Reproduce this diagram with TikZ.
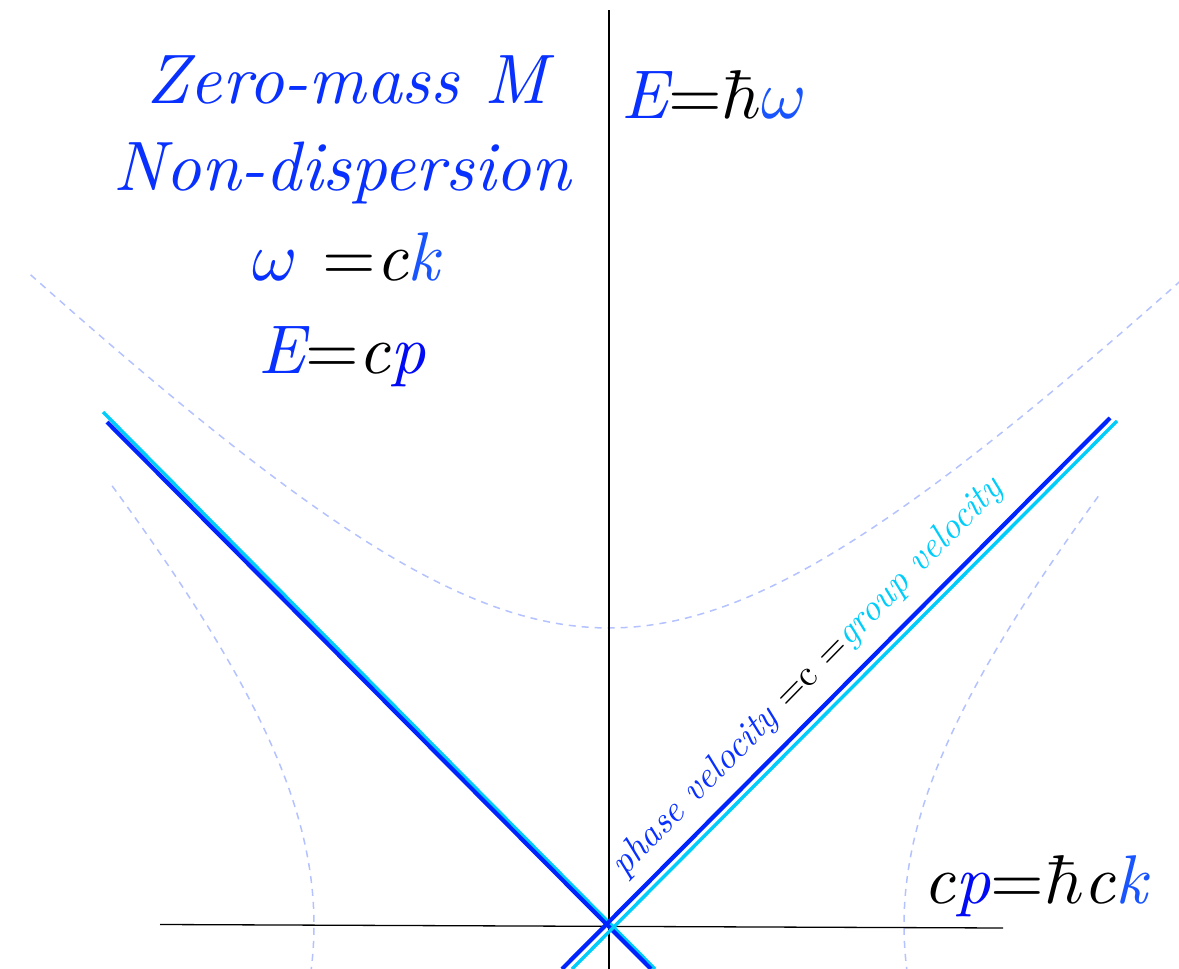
\documentclass[tikz,border=0pt]{standalone}
\usepackage[no-math]{fontspec}
\definecolor{tblue}{RGB}{8,48,255}
\definecolor{pblue}{RGB}{0,10,245}
\definecolor{kblue}{RGB}{25,85,255}
\definecolor{lblue}{RGB}{0,36,255}
\definecolor{lcyan}{RGB}{0,205,250}
\definecolor{hyp}{RGB}{180,194,255}
\tikzset{
  axisline/.style={draw=black, line width=1.3pt},
  hypline/.style={draw=hyp, line width=1.5pt, dash pattern=on 7pt off 6pt},
  blueline/.style={draw=lblue, line width=4.2pt},
  cyanline/.style={draw=lcyan, line width=3.4pt},
  bigtext/.style={inner sep=0pt, anchor=base, scale=7.0, font=\fontsize{10}{12}\selectfont\itshape},
  eqtext/.style={inner sep=0pt, scale=6.9, font=\fontsize{10}{12}\selectfont\itshape},
  slanttext/.style={inner sep=0pt, anchor=base west, rotate=45.6, scale=3.7, font=\fontsize{10}{12}\selectfont\itshape}
}
\begin{document}
\begin{tikzpicture}[x=1pt,y=-1pt]
\useasboundingbox (0,0) rectangle (1179,969);
\clip (0,0) rectangle (1179,969);
% dashed hyperbolas
\draw[hypline] plot[domain=-1.42:1.45, samples=90, variable=\t] ({609+297*sinh(\t)},{925-297*cosh(\t)});
\draw[hypline] plot[domain=-0.15:1.12, samples=60, variable=\t] ({609-295*cosh(\t)},{925-324*sinh(\t)});
\draw[hypline] plot[domain=-0.15:1.10, samples=60, variable=\t] ({609+295*cosh(\t)},{925-324*sinh(\t)});
% axes
\coordinate (vtop) at (609,10);
\coordinate (vbot) at (609,969);
\coordinate (hl) at (160,924.5);
\coordinate (hr) at (1003,928);
\draw[axisline] (vtop) -- (vbot);
\draw[axisline] (hl) -- (hr);
% light lines
\coordinate (lct) at (103,412);
\coordinate (lcb) at (655,969);
\coordinate (lbt) at (107,422);
\coordinate (lbb) at (651,969);
\coordinate (rbb) at (562,969);
\coordinate (rbt) at (1110,418);
\coordinate (rcb) at (572,969);
\coordinate (rct) at (1117,421);
\draw[cyanline] (lct) -- (lcb);
\draw[blueline] (lbt) -- (lbb);
\draw[cyanline] (rcb) -- (rct);
\draw[blueline] (rbb) -- (rbt);
% texts
\node[bigtext, text=tblue] (t1) at (347,103) {Zero-mass M};
\node[bigtext, text=tblue] (t2) at (342,190) {Non-dispersion};
\node[eqtext, anchor=base] (t3) at (346,280) {\textcolor{tblue}{$\omega$} ${=}$c\textcolor{kblue}{k}};
\node[eqtext, anchor=base] (t4) at (342,373) {\textcolor{tblue}{E}${=}$c\textcolor{pblue}{p}};
\node[eqtext, anchor=base west] (t5) at (620,118) {\textcolor{tblue}{E}${=}\hbar$\textcolor{kblue}{$\omega$}};
\node[eqtext, anchor=base west] (t6) at (922,903) {c\textcolor{pblue}{p}${=}\hbar$c\textcolor{kblue}{k}};
\node[slanttext] (t7) at (624,878) {\textcolor{tblue}{phase velocity} ${=}$\textup{c} ${=}$\textcolor{lcyan}{group velocity}};
\end{tikzpicture}
\end{document}
